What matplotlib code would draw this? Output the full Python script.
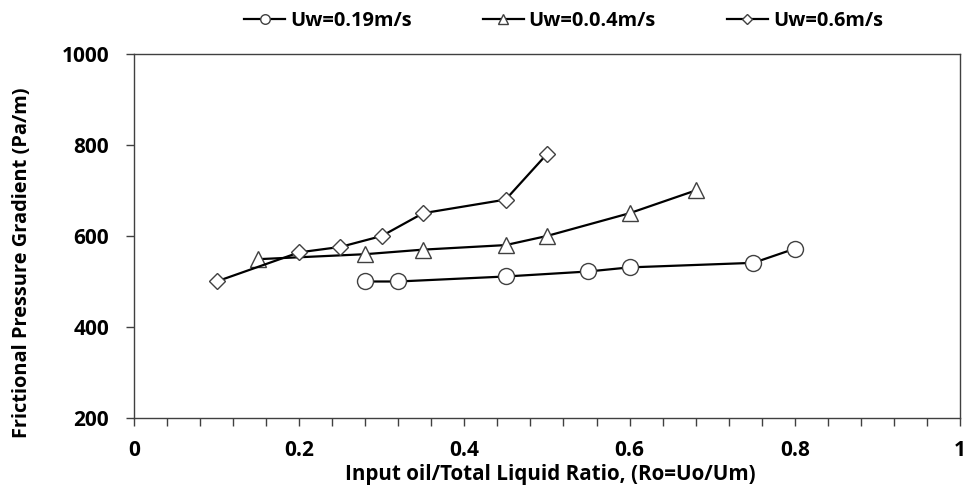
import matplotlib
matplotlib.use("Agg")
import matplotlib.pyplot as plt
from matplotlib.ticker import MultipleLocator

plt.rcParams['font.family'] = ['Open Sans', 'DejaVu Sans']

# Uw = 0.19 m/s
ro_019 = [0.28, 0.32, 0.45, 0.55, 0.60, 0.75, 0.80]
dp_019 = [500, 500, 511, 522, 531, 541, 572]

# Uw = 0.04 m/s
ro_004 = [0.15, 0.28, 0.35, 0.45, 0.50, 0.60, 0.68]
dp_004 = [549, 560, 570, 580, 600, 650, 700]

# Uw = 0.6 m/s
ro_06 = [0.10, 0.20, 0.25, 0.30, 0.35, 0.45, 0.50]
dp_06 = [500, 564, 576, 600, 650, 680, 780]

labels = ['Uw=0.19m/s', 'Uw=0.0.4m/s', 'Uw=0.6m/s']
xticks = [0, 0.2, 0.4, 0.6, 0.8, 1]
xticklabels = ['0', '0.2', '0.4', '0.6', '0.8', '1']
yticks = [200, 400, 600, 800, 1000]

fig = plt.figure(figsize=(9.66, 4.94), dpi=100)
ax = fig.add_axes([0.1387, 0.1538, 0.855, 0.737])

ax.plot(ro_019, dp_019, color='black', lw=1.6, marker='o', ms=11.5,
        mfc='white', mec='#404040', mew=1.0, label=labels[0])
ax.plot(ro_004, dp_004, color='black', lw=1.6, marker='^', ms=12,
        mfc='white', mec='#404040', mew=1.0, label=labels[1])
ax.plot(ro_06, dp_06, color='black', lw=1.6, marker='D', ms=8.5,
        mfc='white', mec='#404040', mew=1.0, label=labels[2])

ax.set_xlim(0, 1)
ax.set_ylim(200, 1000)
ax.set_xticks(xticks, xticklabels)
ax.set_yticks(yticks)
ax.xaxis.set_minor_locator(MultipleLocator(0.04))
ax.tick_params(axis='both', which='major', length=6, width=1, color='#404040',
               labelsize=15)
ax.tick_params(axis='x', which='major', pad=10)
ax.tick_params(axis='y', which='major', pad=12)
ax.tick_params(axis='x', which='minor', length=6, width=1, color='#404040')
for lab in ax.get_xticklabels() + ax.get_yticklabels():
    lab.set_fontweight('bold')

for s in ax.spines.values():
    s.set_color('#404040')
    s.set_linewidth(1.0)

ax.set_xlabel('Input oil/Total Liquid Ratio, (Ro=Uo/Um)', fontsize=14.9,
              fontweight='bold')
ax.set_ylabel('Frictional Pressure Gradient (Pa/m)', fontsize=14.4,
              fontweight='bold')
ax.xaxis.set_label_coords(0.5036, -0.126)
ax.yaxis.set_label_coords(-0.123, 0.427)

leg = fig.legend(loc='upper center', bbox_to_anchor=(0.5833, 1.014), ncol=3,
                 frameon=False, fontsize=14.4, handlelength=2.05, markerscale=0.6,
                 columnspacing=3.55, handletextpad=0.25)
for t in leg.get_texts():
    t.set_fontweight('bold')

fig.savefig('out.png', dpi=100)
